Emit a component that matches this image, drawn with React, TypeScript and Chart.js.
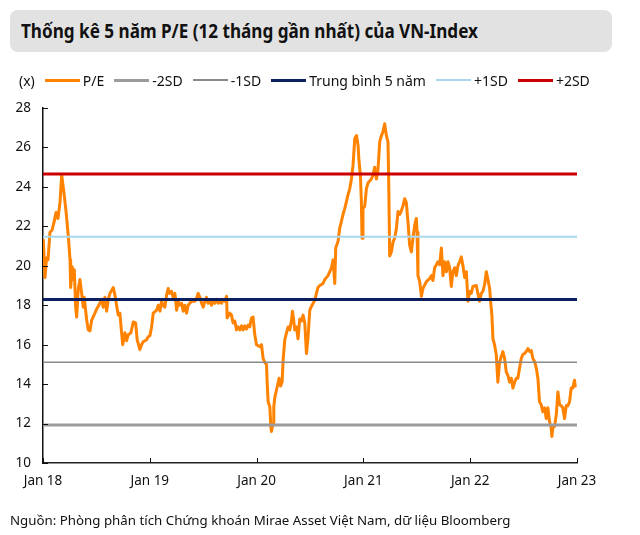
import React, { useEffect, useRef } from 'react';
import { Chart, registerables } from 'chart.js';

Chart.register(...registerables);

// ---- Data ----
const titleText = 'Thống kê 5 năm P/E (12 tháng gần nhất) của VN-Index';
const sourceText = 'Nguồn: Phòng phân tích Chứng khoán Mirae Asset Việt Nam, dữ liệu Bloomberg';
const unitLabel = '(x)';
const peLabel = 'P/E';

// x axis: years elapsed since Jan 2018
const xTickPositions = [0, 1, 2, 3, 4, 5];
const xTickLabels = ['Jan 18', 'Jan 19', 'Jan 20', 'Jan 21', 'Jan 22', 'Jan 23'];
const yTickValues = [10, 12, 14, 16, 18, 20, 22, 24, 26, 28];

const bandLabels = ['-2SD', '-1SD', 'Trung bình 5 năm', '+1SD', '+2SD'];
const bandValues = [11.93, 15.11, 18.29, 21.47, 24.65];

// P/E series (time in years since Jan 2018, value in x)
const peTime = [
  0.003, 0.019, 0.033, 0.047, 0.065, 0.084, 0.103, 0.122, 0.140, 0.159,
  0.175, 0.196, 0.215, 0.237, 0.253, 0.259, 0.274, 0.283, 0.293, 0.306,
  0.315, 0.330, 0.346, 0.362, 0.377, 0.386, 0.409, 0.424, 0.440, 0.456,
  0.486, 0.502, 0.533, 0.549, 0.564, 0.580, 0.596, 0.611, 0.627, 0.658,
  0.674, 0.689, 0.704, 0.720, 0.736, 0.746, 0.767, 0.783, 0.798, 0.823,
  0.845, 0.867, 0.882, 0.907, 0.923, 0.938, 0.970, 0.985, 1.001, 1.017,
  1.032, 1.064, 1.079, 1.095, 1.110, 1.125, 1.141, 1.157, 1.172, 1.188,
  1.204, 1.219, 1.235, 1.251, 1.266, 1.282, 1.298, 1.313, 1.328, 1.344,
  1.359, 1.391, 1.422, 1.438, 1.453, 1.469, 1.485, 1.500, 1.516, 1.531,
  1.546, 1.562, 1.578, 1.593, 1.609, 1.625, 1.640, 1.656, 1.672, 1.687,
  1.703, 1.719, 1.724, 1.749, 1.765, 1.780, 1.796, 1.812, 1.827, 1.843,
  1.859, 1.874, 1.890, 1.906, 1.921, 1.936, 1.952, 1.967, 1.983, 1.999,
  2.014, 2.030, 2.046, 2.061, 2.077, 2.093, 2.098, 2.108, 2.124, 2.133,
  2.139, 2.154, 2.161, 2.170, 2.186, 2.201, 2.211, 2.224, 2.239, 2.248,
  2.264, 2.280, 2.295, 2.311, 2.327, 2.336, 2.348, 2.357, 2.373, 2.388,
  2.404, 2.420, 2.435, 2.451, 2.467, 2.482, 2.498, 2.514, 2.529, 2.545,
  2.560, 2.575, 2.591, 2.607, 2.622, 2.638, 2.669, 2.701, 2.716, 2.732,
  2.741, 2.763, 2.778, 2.794, 2.809, 2.825, 2.841, 2.856, 2.872, 2.888,
  2.903, 2.919, 2.935, 2.950, 2.959, 2.972, 2.981, 2.987, 2.996, 3.012,
  3.028, 3.043, 3.059, 3.075, 3.090, 3.106, 3.122, 3.137, 3.153, 3.169,
  3.184, 3.199, 3.215, 3.230, 3.237, 3.246, 3.262, 3.277, 3.293, 3.309,
  3.324, 3.340, 3.356, 3.371, 3.387, 3.402, 3.417, 3.433, 3.449, 3.464,
  3.480, 3.496, 3.502, 3.511, 3.527, 3.543, 3.558, 3.590, 3.620, 3.636,
  3.651, 3.667, 3.683, 3.698, 3.714, 3.730, 3.745, 3.761, 3.777, 3.792,
  3.807, 3.823, 3.838, 3.854, 3.870, 3.885, 3.901, 3.917, 3.932, 3.948,
  3.964, 3.979, 3.995, 4.010, 4.025, 4.057, 4.072, 4.088, 4.104, 4.119,
  4.135, 4.151, 4.166, 4.182, 4.191, 4.203, 4.213, 4.228, 4.244, 4.259,
  4.275, 4.291, 4.306, 4.322, 4.338, 4.353, 4.369, 4.385, 4.400, 4.416,
  4.432, 4.446, 4.462, 4.478, 4.493, 4.509, 4.525, 4.540, 4.556, 4.572,
  4.587, 4.603, 4.619, 4.634, 4.649, 4.665, 4.680, 4.696, 4.712, 4.727,
  4.743, 4.759, 4.765, 4.774, 4.790, 4.806, 4.821, 4.837, 4.852, 4.867,
  4.883, 4.899, 4.914, 4.930, 4.946, 4.961, 4.977, 4.983,
];
const peValues = [
  21.3, 19.4, 20.4, 20.3, 21.7, 21.8, 22.2, 22.7, 22.4, 23.2,
  24.6, 23.7, 22.8, 21.5, 20.3, 18.9, 19.95, 19.3, 19.8, 17.9,
  17.4, 18.8, 19.3, 18.6, 17.9, 18.4, 17.25, 16.75, 16.7, 17.25,
  17.6, 17.8, 18.1, 18.3, 17.9, 18.4, 17.7, 18.3, 18.6, 18.9,
  18.5, 18.0, 17.5, 17.6, 16.6, 16.0, 16.6, 16.2, 16.5, 16.6,
  17.15, 17.1, 16.25, 15.75, 16.0, 16.15, 16.25, 16.4, 16.45, 16.9,
  17.6, 17.75, 18.0, 17.7, 18.2, 18.0, 17.9, 18.5, 18.85, 18.6,
  18.7, 18.4, 18.6, 17.75, 18.2, 18.0, 18.1, 17.7, 18.0, 17.6,
  18.0, 18.2, 18.2, 18.35, 18.6, 18.4, 18.1, 17.9, 18.2, 18.4,
  18.1, 18.25, 18.0, 18.2, 18.1, 18.3, 18.1, 18.2, 18.1, 18.3,
  18.2, 18.45, 17.35, 17.6, 17.5, 17.1, 17.2, 16.75, 16.9, 16.75,
  16.95, 16.75, 16.95, 16.8, 17.0, 16.9, 17.35, 17.4, 16.5, 16.0,
  15.95, 15.9, 16.0, 15.3, 15.1, 15.0, 14.2, 13.1, 12.85, 11.85,
  11.6, 12.0, 12.85, 13.3, 13.7, 14.05, 14.3, 13.9, 14.1, 15.2,
  16.25, 16.6, 16.9, 16.75, 17.25, 17.7, 17.2, 16.75, 16.9, 16.3,
  17.3, 17.2, 17.5, 17.1, 15.55, 16.4, 17.75, 17.95, 18.1, 18.25,
  18.6, 18.9, 19.0, 19.05, 19.1, 19.3, 19.5, 19.9, 20.3, 19.1,
  20.9, 21.25, 21.9, 22.25, 22.6, 22.9, 23.25, 23.6, 23.9, 24.4,
  25.1, 26.45, 26.6, 26.1, 25.3, 24.6, 23.25, 21.4, 22.9, 23.0,
  23.9, 24.2, 24.3, 24.4, 24.6, 25.0, 24.4, 24.9, 26.3, 26.6,
  26.8, 27.2, 26.6, 26.3, 24.3, 20.5, 20.7, 21.2, 21.4, 21.9,
  22.75, 22.6, 22.8, 23.05, 23.4, 23.2, 22.25, 21.05, 20.7, 21.4,
  22.05, 22.4, 21.7, 19.5, 19.2, 18.45, 18.85, 19.2, 19.35, 19.5,
  19.25, 19.9, 20.05, 20.2, 20.05, 20.9, 19.5, 20.2, 19.7, 20.2,
  19.9, 18.95, 19.7, 19.9, 19.5, 20.0, 20.2, 20.45, 20.0, 19.4,
  19.7, 18.2, 18.7, 18.6, 18.95, 19.0, 18.6, 18.2, 18.6, 18.7,
  19.05, 19.7, 19.3, 18.85, 18.2, 17.5, 16.3, 16.0, 15.5, 14.1,
  15.1, 15.4, 15.65, 15.3, 14.6, 14.45, 14.1, 14.3, 13.8, 14.1,
  14.3, 14.3, 14.8, 15.3, 15.5, 15.55, 15.65, 15.8, 15.65, 15.7,
  15.3, 15.15, 14.8, 14.3, 13.1, 12.95, 12.6, 12.8, 12.25, 12.8,
  12.1, 11.75, 11.35, 11.8, 11.85, 12.45, 13.6, 12.95, 12.9, 12.8,
  12.25, 12.9, 12.9, 13.1, 13.8, 13.8, 14.2, 13.9,
];

// ---- Styles ----
const peColor = '#ff8200';
const bandColors = ['#9b9b9b', '#8a8a8a', '#0c1f5e', '#a8d8f0', '#cc0000'];
const bandWidths = [3, 1.5, 3, 2, 3];
const FONT = "'Noto Sans', 'DejaVu Sans', sans-serif";

const inwardTicks = {
  id: 'inwardTicks',
  afterDraw(chart: any) {
    const { ctx, chartArea: a, scales } = chart;
    const x = scales.x;
    const y = scales.y;
    ctx.save();
    ctx.strokeStyle = '#111';
    ctx.lineWidth = 1;
    ctx.beginPath();
    yTickValues.forEach((v) => {
      const py = Math.round(y.getPixelForValue(v)) + 0.5;
      ctx.moveTo(a.left, py);
      ctx.lineTo(a.left + 5, py);
    });
    xTickPositions.forEach((v) => {
      const px = Math.round(x.getPixelForValue(v)) + 0.5;
      ctx.moveTo(px, a.bottom);
      ctx.lineTo(px, a.bottom - 5);
    });
    ctx.stroke();
    ctx.restore();
  },
};

export default function App() {
  const canvasRef = useRef<HTMLCanvasElement | null>(null);

  useEffect(() => {
    if (!canvasRef.current) return;
    const bandDatasets = bandLabels.map((label, i) => ({
      label,
      data: [
        { x: xTickPositions[0], y: bandValues[i] },
        { x: xTickPositions[xTickPositions.length - 1], y: bandValues[i] },
      ],
      borderColor: bandColors[i],
      borderWidth: bandWidths[i],
      pointRadius: 0,
      fill: false,
    }));
    const peDataset = {
      label: peLabel,
      data: peTime.map((t, i) => ({ x: t, y: peValues[i] })),
      borderColor: peColor,
      borderWidth: 3,
      pointRadius: 0,
      tension: 0,
      fill: false,
      borderJoinStyle: 'round' as const,
      borderCapStyle: 'round' as const,
    };
    const chart = new Chart(canvasRef.current, {
      type: 'line',
      data: { datasets: [...bandDatasets, peDataset] as any },
      plugins: [inwardTicks],
      options: {
        animation: false,
        responsive: false,
        maintainAspectRatio: false,
        layout: { padding: { top: 108, right: 63, bottom: 0, left: 0 } },
        plugins: { legend: { display: false }, tooltip: { enabled: false } },
        scales: {
          x: {
            type: 'linear',
            min: xTickPositions[0],
            max: xTickPositions[xTickPositions.length - 1],
            afterBuildTicks: (s: any) => {
              s.ticks = xTickPositions.map((v) => ({ value: v }));
            },
            afterFit: (s: any) => {
              s.height = 72;
            },
            grid: { display: false, drawTicks: false },
            border: { display: true, color: '#222', width: 1.5 },
            ticks: {
              autoSkip: false,
              maxRotation: 0,
              padding: 10,
              color: '#111',
              font: { family: FONT, size: 13.5 },
              callback: (v: any) => xTickLabels[xTickPositions.indexOf(Number(v))],
            },
          },
          y: {
            min: 10,
            max: 28,
            afterFit: (s: any) => {
              s.width = 43;
            },
            grid: { display: false, drawTicks: false },
            border: { display: true, color: '#111', width: 1.5 },
            ticks: {
              stepSize: 2,
              padding: 12,
              color: '#111',
              font: { family: FONT, size: 13.5 },
            },
          },
        },
      },
    });
    return () => chart.destroy();
  }, []);

  const legendItems = [
    { label: peLabel, color: peColor, h: 3 },
    ...bandLabels.map((label, i) => ({ label, color: bandColors[i], h: bandWidths[i] })),
  ];

  return (
    <div style={{ position: 'absolute', left: 0, top: 0, width: 640, height: 535, background: '#fff', fontFamily: FONT, color: '#111' }}>
      <canvas ref={canvasRef} width={640} height={535} style={{ position: 'absolute', left: 0, top: 0 }} />
      <div
        style={{
          position: 'absolute', left: 10, top: 10, width: 602, height: 42, background: '#e2e2e2', borderRadius: 8,
          display: 'flex', alignItems: 'center', paddingLeft: 11, boxSizing: 'border-box',
        }}
      >
        <span
          style={{
            display: 'inline-block', fontFamily: FONT, fontWeight: 700, fontSize: 19, color: '#111',
            whiteSpace: 'nowrap', transform: 'scaleX(0.9)', transformOrigin: 'left center',
          }}
        >
          {titleText}
        </span>
      </div>
      <div style={{ position: 'absolute', left: 19, top: 70, height: 20, display: 'flex', alignItems: 'center', fontSize: 14, whiteSpace: 'nowrap' }}>
        <span>{unitLabel}</span>
        {legendItems.map((it, i) => (
          <React.Fragment key={i}>
            <span style={{ display: 'inline-block', width: 35, height: it.h, background: it.color, marginLeft: 10, marginRight: 3 }} />
            <span>{it.label}</span>
          </React.Fragment>
        ))}
      </div>
      <div style={{ position: 'absolute', left: 10, top: 511, fontSize: 13.3, whiteSpace: 'nowrap', color: '#111' }}>{sourceText}</div>
    </div>
  );
}
